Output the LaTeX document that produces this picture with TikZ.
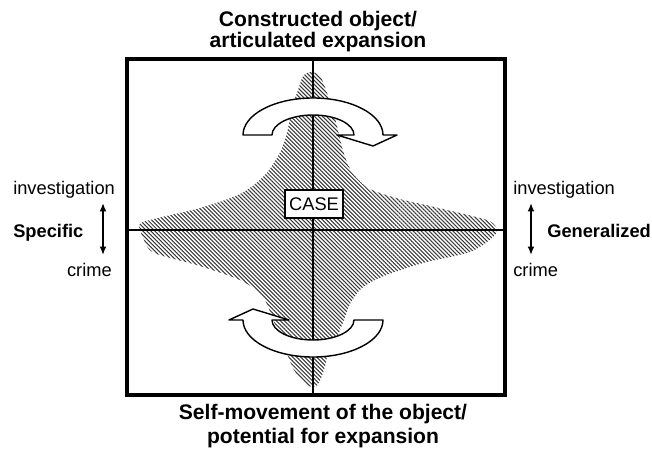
\documentclass[tikz,border=0pt]{standalone}
\usepackage{fontspec}
\setmainfont{Liberation Sans}
\usetikzlibrary{arrows.meta,patterns.meta}
\definecolor{hatchgrey}{HTML}{383838}

\begin{document}
\begin{tikzpicture}
    \useasboundingbox (0,0) rectangle (16.3,11.25);
    % hatched case shape
    \fill[pattern={Lines[angle=-45,distance=2pt,line width=0.75pt]},pattern color=hatchgrey]
      plot[smooth cycle,tension=0.5] coordinates {
        (7.78,9.45) (8.0,9.35) (8.15,9.0) (8.3,8.55) (8.45,8.0) (8.6,7.4)
        (8.8,6.95) (9.2,6.55) (9.9,6.3) (10.75,6.1) (11.6,5.9) (12.25,5.72)
        (12.42,5.5) (12.3,5.3) (11.75,4.95) (10.6,4.68) (9.6,4.35) (9.05,4.05)
        (8.75,3.65) (8.58,3.2) (8.4,2.75) (8.2,2.4) (8.1,2.0) (7.93,1.62)
        (7.68,1.62) (7.35,2.0) (7.18,2.4) (6.85,3.2) (6.65,3.7) (6.45,3.95)
        (6.0,4.25) (5.0,4.6) (3.85,4.93) (3.6,5.25) (3.52,5.48) (3.58,5.7)
        (5.0,6.05) (6.0,6.4) (6.6,6.85) (6.98,7.4) (7.17,7.9) (7.3,8.55)
        (7.45,9.0) (7.58,9.35)};
    % axes
    \draw[line width=1.3pt] (7.825,1.375) -- (7.825,9.775);
    \draw[line width=1.3pt] (3.175,5.5) -- (12.625,5.5);
    % turning arrows, the lower one is the upper one turned round
    \foreach \cy/\rot in {7.875/0,3.25/180}
    {
      \draw[line width=1pt,fill=white,line join=round,shift={(7.825,\cy)},rotate=\rot]
        (-1.75,0) arc[start angle=180,end angle=0,x radius=1.75,y radius=0.925]
        -- (2.1,0) -- (1.5,-0.275) -- (0.6,0) -- (1.025,0)
        arc[start angle=0,end angle=180,x radius=1.025,y radius=0.5] -- cycle;
    }
    % frame
    \draw[line width=2.5pt] (3.175,1.375) rectangle (12.625,9.775);
    \node[draw,fill=white,line width=1.1pt,minimum width=1.45cm,minimum height=0.7cm,
      inner sep=0pt,font=\fontsize{13}{15}\selectfont] (case) at (7.85,6.15) {CASE};
    % titles
    \node[anchor=south,align=center,inner sep=0pt,font=\bfseries\fontsize{15}{15}\selectfont]
      (object) at (7.95,9.94) {Constructed object/\\articulated expansion};
    \node[anchor=north,align=center,inner sep=0pt,font=\bfseries\fontsize{15}{17}\selectfont]
      (movement) at (8.075,1.16) {Self-movement of the object/\\potential for expansion};
    % left side
    \node[anchor=base west,inner sep=0pt,font=\fontsize{13}{15}\selectfont] (inv-l) at (0.325,6.375) {investigation};
    \node[anchor=base west,inner sep=0pt,font=\bfseries\fontsize{13}{15}\selectfont] (specific) at (0.325,5.3) {Specific};
    \node[anchor=base east,inner sep=0pt,font=\fontsize{13}{15}\selectfont] (crime-l) at (2.8,4.325) {crime};
    \coordinate (up-l) at (2.575,6.175);
    \coordinate (dn-l) at (2.575,4.875);
    % right side
    \node[anchor=base west,inner sep=0pt,font=\fontsize{13}{15}\selectfont] (inv-r) at (12.825,6.375) {investigation};
    \node[anchor=base west,inner sep=0pt,font=\bfseries\fontsize{13}{15}\selectfont] (general) at (13.675,5.3) {Generalized};
    \node[anchor=base west,inner sep=0pt,font=\fontsize{13}{15}\selectfont] (crime-r) at (12.825,4.325) {crime};
    \coordinate (up-r) at (13.275,6.175);
    \coordinate (dn-r) at (13.275,4.875);
    \foreach \s in {l,r}
      \draw[{Latex[length=6pt,width=5pt]}-{Latex[length=6pt,width=5pt]},line width=1.3pt] (up-\s) -- (dn-\s);
\end{tikzpicture}
\end{document}
